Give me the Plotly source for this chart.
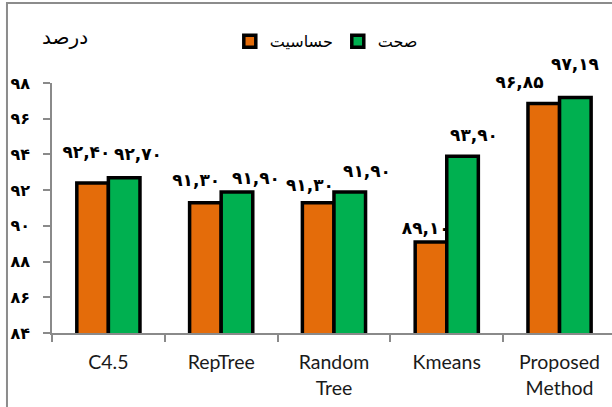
import plotly.graph_objects as go

# ---- data -------------------------------------------------------------
categories = ["C4.5", "RepTree", "Random<br>Tree", "Kmeans", "Proposed<br>Method"]
sensitivity = [92.40, 91.30, 91.30, 89.10, 96.85]   # حساسیت
accuracy = [92.70, 91.90, 91.90, 93.90, 97.19]      # صحت
y_ticks = [84, 86, 88, 90, 92, 94, 96, 98]
series_names = ["حساسیت", "صحت"]
y_title = "درصد"

# ---- styling ------------------------------------------------------------
ORANGE = "#E46C0A"
GREEN = "#00B050"
AXIS_GRAY = "#8A8A8A"
FA_FONT = "DejaVu Sans"
LATIN_FONT = "Lato"

W, H = 612, 407
M_L, M_R, M_T, M_B = 52, 0, 83, 74
X_RANGE = [-0.5, 4.465]
Y_RANGE = [y_ticks[0], y_ticks[-1]]
PX_X = (W - M_L - M_R) / (X_RANGE[1] - X_RANGE[0])
PX_Y = (H - M_T - M_B) / (Y_RANGE[1] - Y_RANGE[0])

BAR_W = 0.28
BAR_LINE = 3.5
LABEL_SIZE = 17

# label placement (pixels): horizontal shift from category centre,
# vertical distance of label centre above the bar top
sens_dx = [-22, -25, -24, -21, -40]
sens_dy = [33, 24, 19, 16, 23]
acc_dx = [30, 35, 33, 27, 16]
acc_dy = [24, 14, 21, 21, 33]
TOP_TEXT_LIFT = 12  # centre of a "top center" scatter label above its anchor

FA_DIGITS = str.maketrans("0123456789", "۰۱۲۳۴۵۶۷۸۹")


def fa_num(v, dec=2):
    return f"{v:.{dec}f}".replace(".", ",").translate(FA_DIGITS)


idx = list(range(len(categories)))
label_font = dict(family=FA_FONT, size=LABEL_SIZE, color="black", weight="bold")

fig = go.Figure()

# orange series and its labels on the base subplot (drawn beneath the green bars)
fig.add_trace(go.Bar(
    x=idx, y=sensitivity, name=series_names[0],
    width=BAR_W, offset=-BAR_W,
    marker=dict(color=ORANGE, line=dict(color="black", width=BAR_LINE)),
    xaxis="x", yaxis="y",
))
fig.add_trace(go.Scatter(
    x=[i + dx / PX_X for i, dx in zip(idx, sens_dx)],
    y=[v + (dy - TOP_TEXT_LIFT) / PX_Y for v, dy in zip(sensitivity, sens_dy)],
    text=[fa_num(v) for v in sensitivity],
    mode="text", textposition="top center",
    textfont=label_font,
    showlegend=False, cliponaxis=False, hoverinfo="skip",
    xaxis="x", yaxis="y",
))

# green series on the overlaying subplot
fig.add_trace(go.Bar(
    x=idx, y=accuracy, name=series_names[1],
    width=BAR_W, offset=0,
    marker=dict(color=GREEN, line=dict(color="black", width=BAR_LINE)),
    xaxis="x2", yaxis="y2",
))

annotations = [
    dict(text=fa_num(v), xref="x2", yref="y2", x=i, y=v,
         xshift=dx, yshift=dy, showarrow=False,
         xanchor="center", yanchor="middle", font=label_font)
    for i, v, dx, dy in zip(idx, accuracy, acc_dx, acc_dy)
]
annotations.append(dict(
    text=y_title, xref="paper", yref="paper",
    x=(65 - M_L) / (W - M_L - M_R), y=(H - M_B - 37) / (H - M_T - M_B),
    xanchor="center", yanchor="middle", showarrow=False,
    font=dict(family=FA_FONT, size=20, color="black"),
))

hidden_axis = dict(visible=False, fixedrange=True)

fig.update_layout(
    width=W, height=H,
    margin=dict(l=M_L, r=M_R, t=M_T, b=M_B, pad=0),
    paper_bgcolor="white", plot_bgcolor="white",
    barmode="overlay",
    showlegend=True,
    xaxis=dict(range=X_RANGE, **hidden_axis),
    yaxis=dict(range=Y_RANGE, **hidden_axis),
    xaxis2=dict(
        overlaying="x", anchor="y2", side="bottom", range=X_RANGE,
        tickmode="array", tickvals=idx, ticktext=categories,
        ticks="", showgrid=False, zeroline=False,
        showline=True, linecolor=AXIS_GRAY, linewidth=1.5,
        ticklabelstandoff=11,
        tickfont=dict(family=LATIN_FONT, size=19.5, color="#1a1a1a"),
        minor=dict(tickmode="array",
                   tickvals=[i - 0.5 for i in idx],
                   ticks="outside", ticklen=7, tickwidth=1.5,
                   tickcolor=AXIS_GRAY, showgrid=False),
        fixedrange=True,
    ),
    yaxis2=dict(
        overlaying="y", anchor="x2", side="left", range=Y_RANGE,
        tickmode="array", tickvals=y_ticks,
        ticktext=[fa_num(t, 0) for t in y_ticks],
        ticks="outside", ticklen=7, tickwidth=1.5, tickcolor=AXIS_GRAY,
        ticklabelstandoff=10,
        showgrid=False, zeroline=False,
        showline=True, linecolor=AXIS_GRAY, linewidth=1.5,
        tickfont=dict(family=FA_FONT, size=16, color="black", weight="bold"),
        fixedrange=True,
    ),
    legend=dict(
        orientation="h", x=0.3175, xanchor="left", y=1.235, yanchor="top",
        font=dict(family=FA_FONT, size=16, color="black"),
        bgcolor="rgba(0,0,0,0)", itemclick=False, itemdoubleclick=False,
    ),
    annotations=annotations,
    shapes=[
        # outer chart frame (left and top edges)
        dict(type="path", xref="paper", yref="paper",
             path="M -0.0804,-0.4 L -0.0804,1.32 L 1.1,1.32",
             line=dict(color="#8C8C8C", width=2)),
    ],
)

fig.write_html("out.html")
